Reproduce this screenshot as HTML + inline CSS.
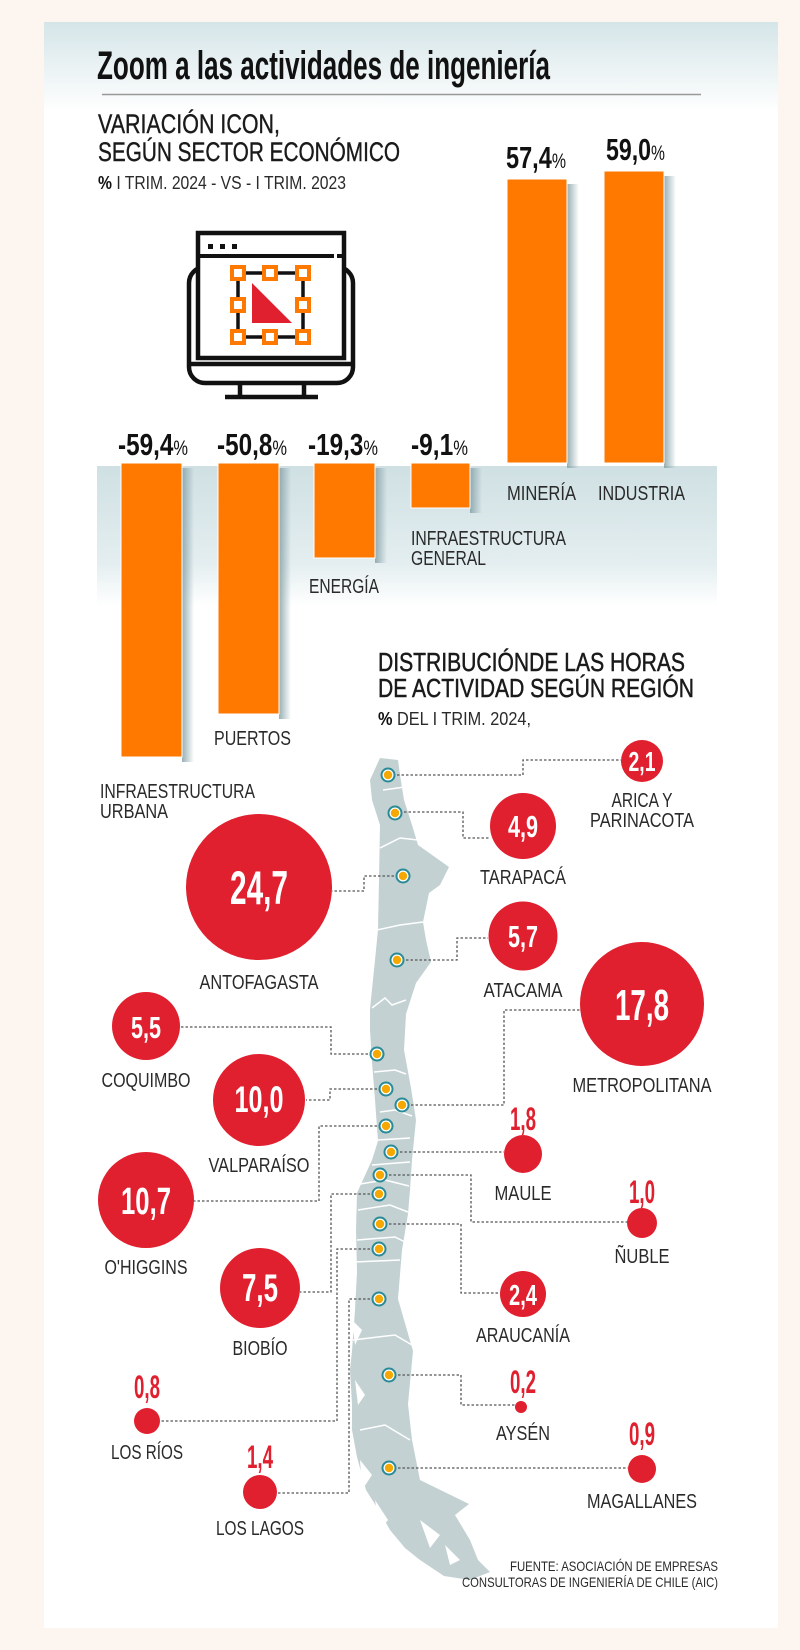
<!DOCTYPE html>
<html><head><meta charset="utf-8"><style>
html,body{margin:0;padding:0;background:#fdf5ef}
svg{display:block}
text{font-family:"Liberation Sans Narrow","Liberation Sans",sans-serif}
.h{font-weight:bold;fill:#111}
.l{fill:#2a2a2a;font-size:20px}
.w{fill:#fff;font-weight:bold;text-anchor:middle}
.r{fill:#e0202f;font-weight:bold;text-anchor:middle;font-size:32px}
.c{text-anchor:middle}
.d{stroke:#555;stroke-width:1.3;stroke-dasharray:2.5 2;fill:none}
</style></head><body>
<svg width="800" height="1650" viewBox="0 0 800 1650" xmlns="http://www.w3.org/2000/svg">
<defs>
<linearGradient id="hg" x1="0" y1="0" x2="0" y2="1"><stop offset="0" stop-color="#d5e5e8"/><stop offset="1" stop-color="#ffffff"/></linearGradient>
<linearGradient id="bg" x1="0" y1="0" x2="0" y2="1"><stop offset="0" stop-color="#cfe0e3"/><stop offset="0.7" stop-color="#e4eef0"/><stop offset="1" stop-color="#ffffff"/></linearGradient>
<linearGradient id="sh" x1="0" y1="0" x2="1" y2="0"><stop offset="0" stop-color="#7f9ca2" stop-opacity="0.8"/><stop offset="1" stop-color="#7f9ca2" stop-opacity="0"/></linearGradient>
<g id="dot"><circle r="7.5" fill="#2a8a96"/><circle r="5.5" fill="#fff"/><circle r="4.2" fill="#f7a800"/></g>
</defs>
<rect width="800" height="1650" fill="#fdf5ef"/>
<rect x="44" y="22" width="734" height="1606" fill="#fff"/>
<rect x="44" y="22" width="734" height="90" fill="url(#hg)"/>
<text x="97" y="79" class="h" font-size="40" textLength="453" lengthAdjust="spacingAndGlyphs">Zoom a las actividades de ingeniería</text>
<line x1="102" y1="94.5" x2="701" y2="94.5" stroke="#999" stroke-width="1.5"/>
<text x="98" y="133" font-size="27" fill="#1a1a1a" stroke="#1a1a1a" stroke-width="0.4" textLength="182" lengthAdjust="spacingAndGlyphs">VARIACIÓN ICON,</text>
<text x="98" y="161" font-size="27" fill="#1a1a1a" stroke="#1a1a1a" stroke-width="0.4" textLength="302" lengthAdjust="spacingAndGlyphs">SEGÚN SECTOR ECONÓMICO</text>
<text x="98" y="189" font-size="18" fill="#2a2a2a" textLength="248" lengthAdjust="spacingAndGlyphs"><tspan font-weight="bold" fill="#111">%</tspan> I TRIM. 2024 - VS - I TRIM. 2023</text>

<!-- icon -->
<g fill="none" stroke="#111" stroke-width="4.5">
<rect x="189" y="267" width="164" height="116" rx="16"/>
<line x1="189" y1="364" x2="353" y2="364"/>
<line x1="240" y1="383" x2="240" y2="396"/><line x1="304" y1="383" x2="304" y2="396"/>
<line x1="225" y1="397" x2="318" y2="397"/>
</g>
<rect x="198" y="233" width="146" height="125" fill="#fff" stroke="#111" stroke-width="4.5"/>
<line x1="200" y1="256" x2="334" y2="256" stroke="#111" stroke-width="4"/>
<line x1="337" y1="256" x2="342" y2="256" stroke="#111" stroke-width="4"/>
<rect x="208" y="244" width="5" height="5" fill="#111"/><rect x="220" y="244" width="5" height="5" fill="#111"/><rect x="232" y="244" width="5" height="5" fill="#111"/>
<rect x="238" y="273" width="65" height="64" fill="none" stroke="#111" stroke-width="3.5"/>
<polygon points="252,283 252,323 292,323" fill="#e0202f"/>
<g fill="#fff" stroke="#ff7800" stroke-width="4">
<rect x="232" y="267" width="12" height="12"/><rect x="264" y="267" width="12" height="12"/><rect x="297" y="267" width="12" height="12"/>
<rect x="232" y="299" width="12" height="12"/><rect x="297" y="299" width="12" height="12"/>
<rect x="232" y="331" width="12" height="12"/><rect x="264" y="331" width="12" height="12"/><rect x="297" y="331" width="12" height="12"/>
</g>

<!-- band -->
<rect x="97" y="466" width="620" height="140" fill="url(#bg)"/>

<!-- bars shadows -->
<g fill="url(#sh)">
<rect x="182" y="468" width="12" height="294"/>
<rect x="279" y="468" width="12" height="251"/>
<rect x="375" y="468" width="12" height="95"/>
<rect x="470" y="468" width="12" height="45"/>
<rect x="567" y="184" width="12" height="284"/>
<rect x="664" y="176" width="12" height="292"/>
</g>
<g fill="#ff7800" stroke="#fff" stroke-width="1">
<rect x="121" y="463" width="61" height="294"/>
<rect x="218" y="463" width="61" height="251"/>
<rect x="314" y="463" width="61" height="95"/>
<rect x="411" y="463" width="59" height="45"/>
<rect x="507" y="179" width="60" height="284"/>
<rect x="604" y="171" width="60" height="292"/>
</g>
<g class="h" font-size="31">
<text x="118" y="455" textLength="70" lengthAdjust="spacingAndGlyphs">-59,4<tspan font-size="21" font-weight="normal">%</tspan></text>
<text x="217" y="455" textLength="70" lengthAdjust="spacingAndGlyphs">-50,8<tspan font-size="21" font-weight="normal">%</tspan></text>
<text x="308" y="455" textLength="70" lengthAdjust="spacingAndGlyphs">-19,3<tspan font-size="21" font-weight="normal">%</tspan></text>
<text x="411" y="455" textLength="57" lengthAdjust="spacingAndGlyphs">-9,1<tspan font-size="21" font-weight="normal">%</tspan></text>
<text x="506" y="168" textLength="60" lengthAdjust="spacingAndGlyphs">57,4<tspan font-size="21" font-weight="normal">%</tspan></text>
<text x="606" y="160" textLength="59" lengthAdjust="spacingAndGlyphs">59,0<tspan font-size="21" font-weight="normal">%</tspan></text>
</g>
<g class="l">
<text x="507" y="500" textLength="69" lengthAdjust="spacingAndGlyphs">MINERÍA</text>
<text x="598" y="500" textLength="87" lengthAdjust="spacingAndGlyphs">INDUSTRIA</text>
<text x="411" y="545" textLength="155" lengthAdjust="spacingAndGlyphs">INFRAESTRUCTURA</text>
<text x="411" y="565" textLength="75" lengthAdjust="spacingAndGlyphs">GENERAL</text>
<text x="309" y="593" textLength="70" lengthAdjust="spacingAndGlyphs">ENERGÍA</text>
<text x="214" y="745" textLength="77" lengthAdjust="spacingAndGlyphs">PUERTOS</text>
<text x="100" y="798" textLength="155" lengthAdjust="spacingAndGlyphs">INFRAESTRUCTURA</text>
<text x="100" y="818" textLength="68" lengthAdjust="spacingAndGlyphs">URBANA</text>
</g>

<text x="378" y="671" font-size="26" fill="#1a1a1a" stroke="#1a1a1a" stroke-width="0.5" textLength="307" lengthAdjust="spacingAndGlyphs">DISTRIBUCIÓNDE LAS HORAS</text>
<text x="378" y="697" font-size="26" fill="#1a1a1a" stroke="#1a1a1a" stroke-width="0.5" textLength="316" lengthAdjust="spacingAndGlyphs">DE ACTIVIDAD SEGÚN REGIÓN</text>
<text x="378" y="725" font-size="18" fill="#2a2a2a" textLength="153" lengthAdjust="spacingAndGlyphs"><tspan font-weight="bold" fill="#111">%</tspan> DEL I TRIM. 2024,</text>

<!-- map -->
<path fill="#c3d1d2" d="M380,758 L398,760 L400,775 L404,800 L412,825 L418,845 L449,867 L440,885 L429,893 L423,922 L426,940 L431,962 L416,983 L406,1014 L404,1050 L411,1088 L416,1120 L412,1160 L410,1190 L408,1214 L402,1250 L398,1299 L413,1351 L408,1404 L412,1440 L420,1480 L469,1504 L455,1515 L470,1540 L478,1560 L490,1572 L470,1580 L444,1576 L420,1560 L405,1548 L390,1530 L378,1509 L366,1490 L357,1457 L352,1430 L352,1404 L350,1370 L352,1351 L355,1310 L357,1272 L356,1230 L357,1193 L372,1160 L378,1141 L375,1100 L372,1062 L370,1030 L370,1009 L374,970 L378,930 L379,880 L380,825 L372,800 L370,780 Z"/>
<g stroke="#fff" stroke-width="1.5" fill="none">
<path d="M383,790 L412,786"/><path d="M380,848 L400,838 L418,840"/><path d="M377,930 L400,925 L423,922"/><path d="M372,1008 L385,998 L392,1005 L406,1000"/>
<path d="M374,1072 L395,1070 L406,1074"/><path d="M380,1112 L395,1110 L412,1116"/><path d="M378,1140 L410,1138"/><path d="M372,1165 L410,1162"/>
<path d="M360,1184 L385,1180 L409,1186"/><path d="M358,1210 L390,1205 L408,1212"/><path d="M357,1240 L395,1237 L405,1242"/><path d="M355,1262 L400,1260"/>
<path d="M353,1340 L395,1335 L412,1345"/><path d="M360,1430 L385,1425 L410,1440"/>
</g>
<g fill="#fff">
<polygon points="352,1320 362,1330 355,1345"/><polygon points="355,1380 365,1395 358,1405"/><polygon points="360,1460 372,1475 362,1490"/><polygon points="375,1500 388,1520 380,1530"/><polygon points="420,1520 440,1535 430,1548"/><polygon points="445,1545 460,1560 450,1565"/>
</g>

<!-- connectors -->
<path class="d" d="M388,775 H523 V760 H621"/>
<path class="d" d="M395,812 H463 V838 H490"/>
<path class="d" d="M403,876 H364 V891 H332"/>
<path class="d" d="M397,960 H457 V938 H488"/>
<path class="d" d="M377,1054 H331 V1027 H180"/>
<path class="d" d="M386,1089 H330 V1100 H306"/>
<path class="d" d="M402,1105 H504 V1010 H581"/>
<path class="d" d="M386,1126 H319 V1201 H194"/>
<path class="d" d="M391,1152 H504"/>
<path class="d" d="M380,1175 H471 V1222 H628"/>
<path class="d" d="M379,1194 H331 V1292 H300"/>
<path class="d" d="M380,1224 H461 V1293 H500"/>
<path class="d" d="M379,1249 H337 V1421 H160"/>
<path class="d" d="M379,1299 H349 V1493 H277"/>
<path class="d" d="M389,1375 H461 V1405 H515"/>
<path class="d" d="M389,1468 H628"/>

<g>
<use href="#dot" x="388" y="775"/><use href="#dot" x="395" y="813"/><use href="#dot" x="403" y="876"/><use href="#dot" x="397" y="960"/>
<use href="#dot" x="377" y="1054"/><use href="#dot" x="386" y="1089"/><use href="#dot" x="402" y="1105"/><use href="#dot" x="386" y="1126"/>
<use href="#dot" x="391" y="1152"/><use href="#dot" x="380" y="1175"/><use href="#dot" x="379" y="1194"/><use href="#dot" x="380" y="1224"/>
<use href="#dot" x="379" y="1249"/><use href="#dot" x="379" y="1299"/><use href="#dot" x="389" y="1375"/><use href="#dot" x="389" y="1468"/>
</g>

<!-- circles -->
<g fill="#e0202f">
<circle cx="642" cy="761" r="21"/><circle cx="523" cy="826" r="33"/><circle cx="259" cy="887" r="73"/><circle cx="523" cy="936" r="34.5"/>
<circle cx="642" cy="1004" r="62"/><circle cx="146" cy="1026" r="34"/><circle cx="259" cy="1100" r="46"/><circle cx="523" cy="1154" r="19"/>
<circle cx="146" cy="1200" r="48"/><circle cx="642" cy="1223" r="15"/><circle cx="260" cy="1288" r="40"/><circle cx="523" cy="1294" r="23"/>
<circle cx="147" cy="1421" r="13"/><circle cx="521" cy="1407" r="6"/><circle cx="260" cy="1492" r="17"/><circle cx="642" cy="1469" r="14"/>
</g>
<g>
<text class="w" x="642" y="771" font-size="28" textLength="27" lengthAdjust="spacingAndGlyphs">2,1</text>
<text class="w" x="523" y="837" font-size="31" textLength="30" lengthAdjust="spacingAndGlyphs">4,9</text>
<text class="w" x="259" y="904" font-size="47" textLength="58" lengthAdjust="spacingAndGlyphs">24,7</text>
<text class="w" x="523" y="947" font-size="31" textLength="30" lengthAdjust="spacingAndGlyphs">5,7</text>
<text class="w" x="642" y="1020" font-size="44" textLength="54" lengthAdjust="spacingAndGlyphs">17,8</text>
<text class="w" x="146" y="1038" font-size="31" textLength="30" lengthAdjust="spacingAndGlyphs">5,5</text>
<text class="w" x="259" y="1112" font-size="37" textLength="49" lengthAdjust="spacingAndGlyphs">10,0</text>
<text class="w" x="146" y="1214" font-size="38" textLength="50" lengthAdjust="spacingAndGlyphs">10,7</text>
<text class="w" x="260" y="1301" font-size="39" textLength="36" lengthAdjust="spacingAndGlyphs">7,5</text>
<text class="w" x="523" y="1305" font-size="29" textLength="28" lengthAdjust="spacingAndGlyphs">2,4</text>
</g>
<g>
<text class="r" x="523" y="1130" textLength="26" lengthAdjust="spacingAndGlyphs">1,8</text>
<text class="r" x="642" y="1203" textLength="26" lengthAdjust="spacingAndGlyphs">1,0</text>
<text class="r" x="147" y="1398" textLength="26" lengthAdjust="spacingAndGlyphs">0,8</text>
<text class="r" x="523" y="1393" textLength="26" lengthAdjust="spacingAndGlyphs">0,2</text>
<text class="r" x="260" y="1468" textLength="26" lengthAdjust="spacingAndGlyphs">1,4</text>
<text class="r" x="642" y="1445" textLength="26" lengthAdjust="spacingAndGlyphs">0,9</text>
</g>
<g class="l c">
<text x="642" y="807" textLength="61" lengthAdjust="spacingAndGlyphs">ARICA Y</text>
<text x="642" y="827" textLength="104" lengthAdjust="spacingAndGlyphs">PARINACOTA</text>
<text x="523" y="884" textLength="86" lengthAdjust="spacingAndGlyphs">TARAPACÁ</text>
<text x="259" y="989" textLength="119" lengthAdjust="spacingAndGlyphs">ANTOFAGASTA</text>
<text x="523" y="997" textLength="79" lengthAdjust="spacingAndGlyphs">ATACAMA</text>
<text x="642" y="1092" textLength="139" lengthAdjust="spacingAndGlyphs">METROPOLITANA</text>
<text x="146" y="1087" textLength="89" lengthAdjust="spacingAndGlyphs">COQUIMBO</text>
<text x="259" y="1172" textLength="101" lengthAdjust="spacingAndGlyphs">VALPARAÍSO</text>
<text x="523" y="1200" textLength="57" lengthAdjust="spacingAndGlyphs">MAULE</text>
<text x="146" y="1274" textLength="83" lengthAdjust="spacingAndGlyphs">O'HIGGINS</text>
<text x="642" y="1263" textLength="55" lengthAdjust="spacingAndGlyphs">ÑUBLE</text>
<text x="260" y="1355" textLength="55" lengthAdjust="spacingAndGlyphs">BIOBÍO</text>
<text x="523" y="1342" textLength="94" lengthAdjust="spacingAndGlyphs">ARAUCANÍA</text>
<text x="147" y="1459" textLength="72" lengthAdjust="spacingAndGlyphs">LOS RÍOS</text>
<text x="523" y="1440" textLength="54" lengthAdjust="spacingAndGlyphs">AYSÉN</text>
<text x="260" y="1535" textLength="88" lengthAdjust="spacingAndGlyphs">LOS LAGOS</text>
<text x="642" y="1508" textLength="110" lengthAdjust="spacingAndGlyphs">MAGALLANES</text>
</g>
<text x="718" y="1571" font-size="14" fill="#2a2a2a" text-anchor="end" textLength="208" lengthAdjust="spacingAndGlyphs">FUENTE: ASOCIACIÓN DE EMPRESAS</text>
<text x="718" y="1587" font-size="14" fill="#2a2a2a" text-anchor="end" textLength="256" lengthAdjust="spacingAndGlyphs">CONSULTORAS DE INGENIERÍA DE CHILE (AIC)</text>
</svg>
</body></html>
